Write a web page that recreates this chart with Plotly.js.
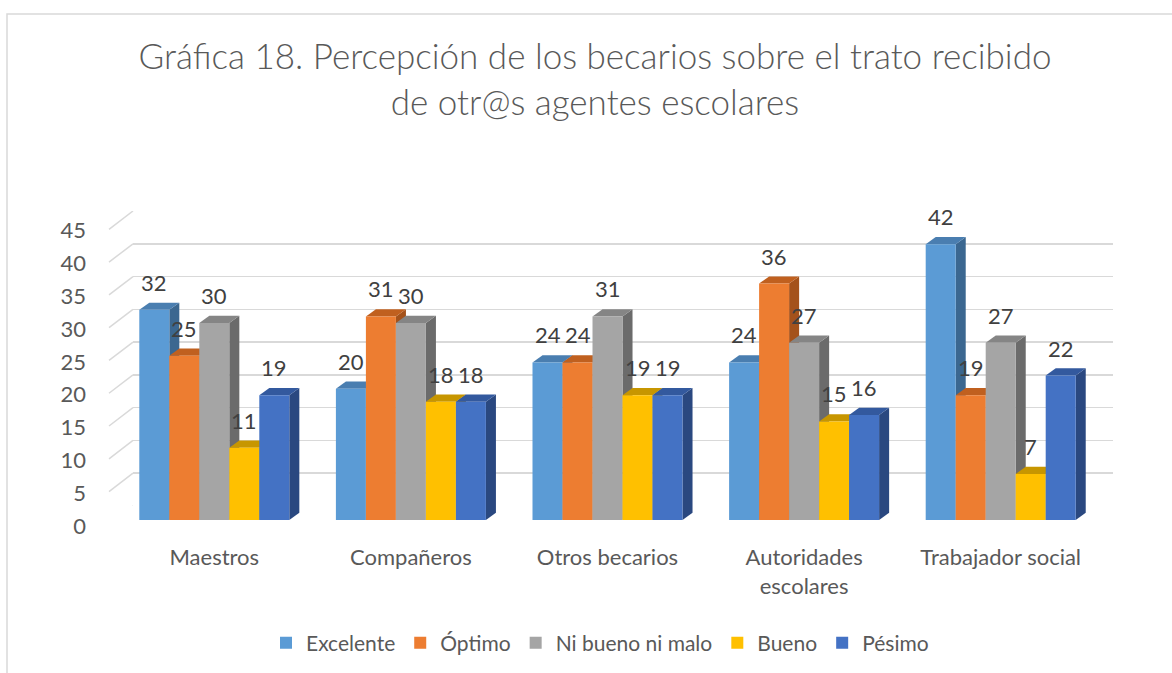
<!DOCTYPE html>
<html>
<head>
<meta charset="utf-8">
<script src="https://cdn.plot.ly/plotly-3.0.1.min.js"></script>
<style>html,body{margin:0;padding:0;background:#fff;}#chart{width:1172px;height:673px;}</style>
</head>
<body>
<div id="chart"></div>
<script>
// ---- data ----
const categories = ['Maestros', 'Compañeros', 'Otros becarios', 'Autoridades<br>escolares', 'Trabajador social'];
const seriesNames = ['Excelente', 'Óptimo', 'Ni bueno ni malo', 'Bueno', 'Pésimo'];
const excelente = [32, 20, 24, 24, 42];
const optimo = [25, 31, 24, 36, 19];
const niBuenoNiMalo = [30, 30, 31, 27, 27];
const bueno = [11, 18, 19, 15, 7];
const pesimo = [19, 18, 19, 16, 22];
const yTicks = [0, 5, 10, 15, 20, 25, 30, 35, 40, 45];

// ---- styles ----
const frontColors = ['#5B9BD5', '#ED7D31', '#A5A5A5', '#FFC000', '#4472C4'];
const topColors = ['#4A7EB0', '#C0601F', '#858585', '#C79600', '#33599E'];
const sideColors = ['#3B6790', '#A4521B', '#6B6B6B', '#A27A00', '#2A4880'];

const allSeries = [excelente, optimo, niBuenoNiMalo, bueno, pesimo];
const groupWidth = 0.763;
const barW = groupWidth / allSeries.length;
const depthX = 0.051;   // 3D depth in category units
const depthY = 1.1;     // 3D depth in value units

const traces = [];
const shapes = [];
const annotations = [];

// empty trace to hold the back-wall subplot
traces.push({type: 'scatter', x: [], y: [], xaxis: 'x', yaxis: 'y', showlegend: false, hoverinfo: 'skip'});

allSeries.forEach((vals, j) => {
  const xs = vals.map((v, i) => i + (j - (allSeries.length - 1) / 2) * barW);
  traces.push({
    type: 'bar', name: seriesNames[j], x: xs, y: vals, width: barW,
    xaxis: 'x2', yaxis: 'y2',
    marker: {color: frontColors[j], line: {width: 0}},
    hoverinfo: 'name+y'
  });
  xs.forEach((c, i) => {
    const v = vals[i];
    const l = c - barW / 2, r = c + barW / 2;
    // side face
    shapes.push({type: 'path', xref: 'x2', yref: 'y2', layer: 'between',
      path: `M ${r},0 L ${r + depthX},${depthY} L ${r + depthX},${v + depthY} L ${r},${v} Z`,
      fillcolor: sideColors[j], line: {width: 0}});
    // top face
    shapes.push({type: 'path', xref: 'x2', yref: 'y2', layer: 'between',
      path: `M ${l},${v} L ${r},${v} L ${r + depthX},${v + depthY} L ${l + depthX},${v + depthY} Z`,
      fillcolor: topColors[j], line: {width: 0}});
    annotations.push({xref: 'x2', yref: 'y2', x: c, y: v, text: String(v), showarrow: false,
      yanchor: 'bottom', yshift: 12, font: {family: 'Lato', size: 22, color: '#404040'}});
  });
});

// diagonal floor/wall connectors for back gridlines
yTicks.forEach(t => {
  shapes.push({type: 'line', xref: 'paper', yref: 'y', x0: 109 / 1172, x1: 133 / 1172,
    y0: t - 2.8, y1: t, line: {color: '#D9D9D9', width: 1.5}, layer: 'below'});
});
// outer chart frame
shapes.push({type: 'rect', xref: 'paper', yref: 'paper', x0: 7 / 1172, x1: 1.1, y0: -0.1, y1: 1 - 14 / 673,
  line: {color: '#D9D9D9', width: 1.5}, fillcolor: 'rgba(0,0,0,0)', layer: 'below'});

const H = 673, W = 1172;
const layout = {
  width: W, height: H,
  margin: {l: 0, r: 0, t: 0, b: 0},
  paper_bgcolor: '#ffffff', plot_bgcolor: 'rgba(0,0,0,0)',
  font: {family: 'Lato', color: '#595959'},
  title: {
    text: 'Gráfica 18. Percepción de los becarios sobre el trato recibido<br>de otr@s agentes escolares',
    x: 595 / W, xanchor: 'center', y: 1 - 69 / H, yanchor: 'top',
    font: {family: 'Lato', size: 35, color: '#595959', weight: 300}
  },
  barmode: 'overlay',
  showlegend: true,
  legend: {orientation: 'h', x: 600 / W, xanchor: 'center', y: 1 - 643 / H, yanchor: 'middle',
    font: {family: 'Lato', size: 21, color: '#595959'}, traceorder: 'normal', itemclick: false},
  // back wall gridlines
  xaxis: {domain: [133 / W, 1113 / W], range: [0, 1], showgrid: false, zeroline: false,
    showticklabels: false, showline: false, ticks: '', fixedrange: true},
  yaxis: {domain: [1 - 506 / H, 1 - 211 / H], range: [0, 45], tickvals: yTicks, showgrid: true,
    gridcolor: '#D9D9D9', gridwidth: 1.5, zeroline: false, showticklabels: false, showline: false,
    ticks: '', anchor: 'x', fixedrange: true},
  // bars
  xaxis2: {domain: [116 / W, 1099 / W], range: [-0.5, 4.5], tickvals: [0, 1, 2, 3, 4], ticktext: categories,
    showgrid: false, zeroline: false, showline: false, ticks: '', anchor: 'y2', ticklabelstandoff: 22,
    tickfont: {family: 'Lato', size: 22, color: '#595959'}, fixedrange: true},
  yaxis2: {domain: [1 - 520 / H, 1 - 224.5 / H], range: [0, 45], tickvals: yTicks, showgrid: false,
    zeroline: false, showline: false, ticks: '', anchor: 'x2', ticklabelstandoff: 29, ticklabelshift: 6,
    tickfont: {family: 'Lato', size: 22, color: '#595959'}, fixedrange: true},
  shapes: shapes,
  annotations: annotations
};

Plotly.newPlot('chart', traces, layout, {displayModeBar: false, staticPlot: true});
</script>
</body>
</html>
